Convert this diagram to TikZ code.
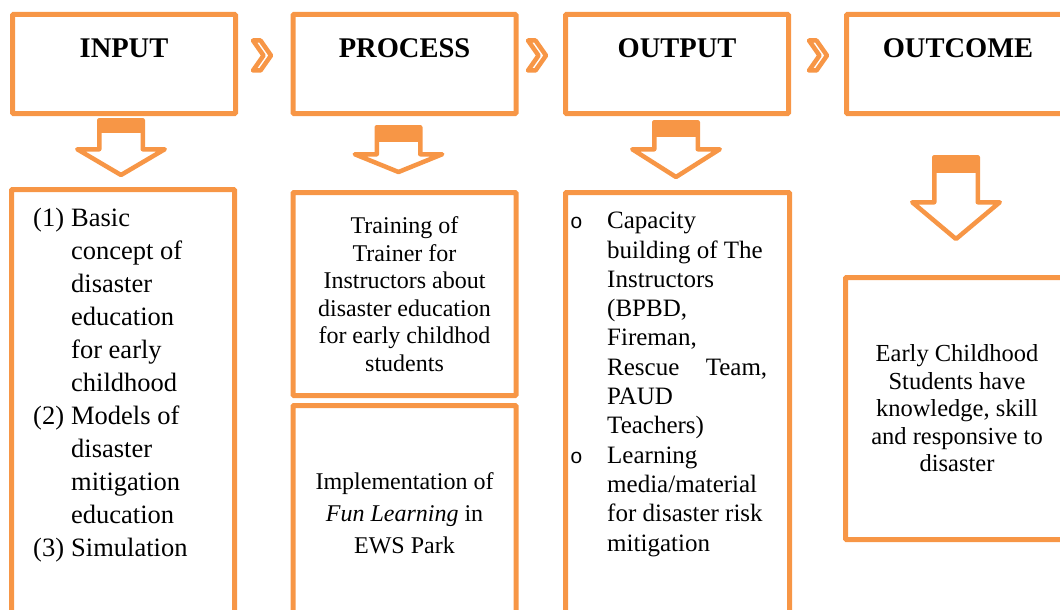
\documentclass[tikz,border=0pt]{standalone}
\usepackage{fontspec}
\setmainfont{Liberation Serif}
\newfontfamily\bulletfont{Liberation Mono}
\usetikzlibrary{positioning}

\definecolor{flow}{HTML}{F79646}

\tikzset{
  box/.style={draw=flow, line width=5pt, rounded corners=1pt, minimum width=223pt, inner sep=0pt},
  headbox/.style={box, font=\fontsize{28.5}{34}\selectfont\bfseries, text height=43.5pt, text depth=55.5pt},
  bodytxt/.style={align=center, font=\fontsize{24}{27.5}\selectfont},
  listtxt/.style={anchor=north west, inner sep=0pt},
  blockarrow/.style={draw=flow, line width=4.5pt, line join=round, fill=white},
  chev/.style={draw=flow, line width=4.5pt, line join=round},
}

\begin{document}
\begin{tikzpicture}[x=1pt, y=-1pt]
  \clip (0,0) rectangle (1060,610);

  % stage titles
  \node[headbox] (input)   at (124,64)   {INPUT};
  \node[headbox] (process) at (404.5,64) {PROCESS};
  \node[headbox] (output)  at (677,64)   {OUTPUT};
  \node[headbox] (outcome) at (958,64)   {OUTCOME};

  % chevrons between the titles
  \foreach \x in {250,525,806}
    \draw[chev] (\x+3,40.5) -- (\x+10.5,40.5) -- (\x+21,55.5) -- (\x+10.5,70.5)
      -- (\x+3,70.5) -- (\x+13.5,55.5) -- cycle;

  % block arrows: centre / top / band / shoulder / tip
  \foreach \ax/\ay/\band/\sh/\tp in {121/120.25/133/149.25/175,
      398.5/127.25/142/154.25/172, 676/122.25/137/149.25/177,
      956/157.25/173/202.25/239} {
    \draw[blockarrow] (\ax-21.75,\ay) -- (\ax+21.75,\ay) -- (\ax+21.75,\sh)
      -- (\ax+43.75,\sh) -- (\ax,\tp) -- (\ax-43.75,\sh) -- (\ax-21.75,\sh) -- cycle;
    \fill[flow] (\ax-21.75,\ay) rectangle (\ax+21.75,\band);
  }

  % input column
  \node[box, minimum height=450pt] (inbody) at (123,414.5) {};
  \node[listtxt, font=\fontsize{26.5}{33}\selectfont] (inlist) at (33,203) {%
    \begin{tabular}{@{}p{38pt}@{}l@{}}
      (1) & Basic\\
          & concept of\\
          & disaster\\
          & education\\
          & for early\\
          & childhood\\
      (2) & Models of\\
          & disaster\\
          & mitigation\\
          & education\\
      (3) & Simulation
    \end{tabular}};

  % process column
  \node[box, bodytxt, minimum height=203pt] (train) at (404.5,294)
    {Training of\\ Trainer for\\ Instructors about\\ disaster education\\
     for early childhod\\ students};
  \node[box, bodytxt, font=\fontsize{24}{32}\selectfont, minimum height=215pt] (fun) at (404.5,513)
    {Implementation of\\ \textit{Fun Learning} in\\ EWS Park};

  % output column
  \node[box, minimum width=224pt, minimum height=450pt] (outbody) at (677.5,417.5) {};
  \node[listtxt, font=\fontsize{25}{29.3}\selectfont] (outlist) at (570,208) {%
    \begin{tabular}{@{}p{37pt}@{}l@{}}
      {\bulletfont\fontsize{21}{21}\selectfont o} & Capacity\\
        & building of The\\
        & Instructors\\
        & (BPBD,\\
        & Fireman,\\
        & \makebox[160pt][s]{Rescue Team,}\\
        & PAUD\\
        & Teachers)\\
      {\bulletfont\fontsize{21}{21}\selectfont o} & Learning\\
        & media/material\\
        & for disaster risk\\
        & mitigation
    \end{tabular}};

  % outcome column
  \node[box, bodytxt, font=\fontsize{24.5}{27.5}\selectfont, minimum height=262pt] (result) at (957,408.5)
    {Early Childhood\\ Students have\\ knowledge, skill\\ and responsive to\\ disaster};
\end{tikzpicture}
\end{document}
